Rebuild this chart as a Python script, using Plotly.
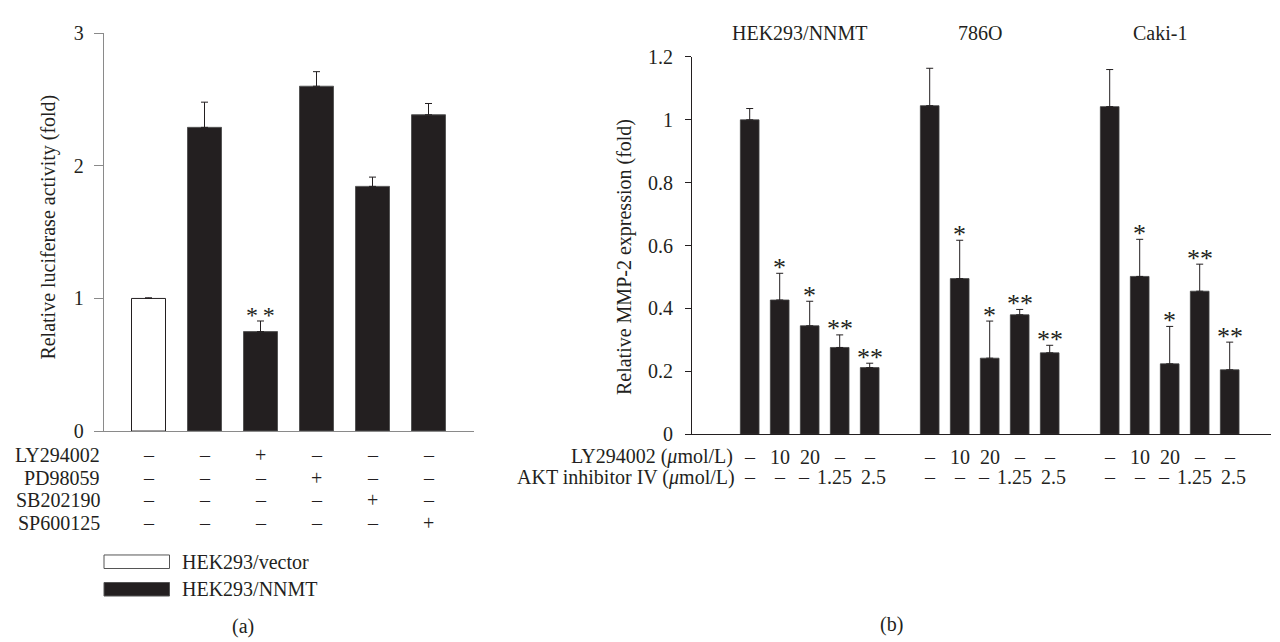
import plotly.graph_objects as go

W, H = 1280, 642
FONT = "Liberation Serif"
INK = "#231f20"

# ---------------- Panel (a) data ----------------
a_groups = ["HEK293/vector", "HEK293/NNMT", "HEK293/NNMT", "HEK293/NNMT", "HEK293/NNMT", "HEK293/NNMT"]
a_values = [1.00, 2.29, 0.75, 2.60, 1.845, 2.385]
a_errors = [0.005, 0.19, 0.08, 0.11, 0.07, 0.085]
a_stars = ["", "", "*\u2009*", "", "", ""]
a_treatments = ["LY294002", "PD98059", "SB202190", "SP600125"]
a_signs = [
    ["–", "–", "+", "–", "–", "–"],
    ["–", "–", "–", "+", "–", "–"],
    ["–", "–", "–", "–", "+", "–"],
    ["–", "–", "–", "–", "–", "+"],
]
a_yticks = [0, 1, 2, 3]

# ---------------- Panel (b) data ----------------
b_cells = ["HEK293/NNMT", "786O", "Caki-1"]
b_ly = ["–", "10", "20", "–", "–"]
b_akt = ["–", "–", "–", "1.25", "2.5"]
b_values = [
    [1.00, 0.427, 0.345, 0.276, 0.212],
    [1.045, 0.495, 0.242, 0.380, 0.259],
    [1.042, 0.502, 0.224, 0.455, 0.205],
]
b_errors = [
    [0.036, 0.085, 0.078, 0.040, 0.014],
    [0.119, 0.122, 0.118, 0.017, 0.024],
    [0.118, 0.118, 0.119, 0.086, 0.088],
]
b_stars = ["", "*", "*", "**", "**"]
b_yticks = [0, 0.2, 0.4, 0.6, 0.8, 1.0, 1.2]
b_yticklabels = ["0", "0.2", "0.4", "0.6", "0.8", "1", "1.2"]

def px(x):
    return x / W

def py(y):
    return 1 - y / H

fig = go.Figure()

# Panel (a) bars
a_x = list(range(len(a_values)))
a_colors = ["white" if g == "HEK293/vector" else INK for g in a_groups]
a_lines = [INK if g == "HEK293/vector" else "#555555" for g in a_groups]
fig.add_trace(go.Bar(
    x=a_x, y=a_values, width=0.607,
    marker=dict(color=a_colors, line=dict(color=a_lines, width=1)),
    error_y=dict(type="data", array=a_errors, arrayminus=[0] * len(a_errors),
                 symmetric=False, color=INK, thickness=1, width=3.5),
    xaxis="x", yaxis="y", showlegend=False, hoverinfo="skip",
))

# Panel (b) bars
b_x, b_y, b_e, b_s = [], [], [], []
for gi, vals in enumerate(b_values):
    for j, v in enumerate(vals):
        b_x.append(gi * 6 + j)
        b_y.append(v)
        b_e.append(b_errors[gi][j])
        b_s.append(b_stars[j])
fig.add_trace(go.Bar(
    x=b_x, y=b_y, width=0.623,
    marker=dict(color=INK, line=dict(color="#444444", width=0.8)),
    error_y=dict(type="data", array=b_e, arrayminus=[0] * len(b_e),
                 symmetric=False, color=INK, thickness=1, width=3.5),
    xaxis="x2", yaxis="y2", showlegend=False, hoverinfo="skip",
))

ann = []
tfont = dict(family=FONT, size=20, color=INK)
sfont = dict(family=FONT, size=26, color=INK)

# stars (a)
for i, s in enumerate(a_stars):
    if s:
        ann.append(dict(x=a_x[i], y=a_values[i] + a_errors[i], xref="x", yref="y",
                        text=s, showarrow=False, yanchor="middle", yshift=6,
                        font=dict(family=FONT, size=24, color=INK)))
# stars (b)
for xi, yi, ei, s in zip(b_x, b_y, b_e, b_s):
    if s:
        ann.append(dict(x=xi, y=yi + ei, xref="x2", yref="y2",
                        text=s, showarrow=False, yanchor="middle", yshift=6,
                        font=sfont))

# table (a)
a_rows_y = [451.7, 475, 498.5, 521.7]
for r, (name, signs) in enumerate(zip(a_treatments, a_signs)):
    ann.append(dict(x=px(94), y=py(a_rows_y[r]), xref="paper", yref="paper",
                    text=name, showarrow=False, xanchor="right", yanchor="middle", font=tfont))
    for c, s in enumerate(signs):
        ann.append(dict(x=a_x[c], y=py(a_rows_y[r]), xref="x", yref="paper",
                        text=s, showarrow=False, xanchor="center", yanchor="middle", font=tfont))

# table (b)
b_rows_y = [453.3, 474.3]
akt_shift = [0, 0, -6, -5, 4]
ann.append(dict(x=px(727), y=py(b_rows_y[0]), xref="paper", yref="paper",
                text="LY294002 (<i>μ</i>mol/L)", showarrow=False, xanchor="right",
                yanchor="middle", font=tfont))
ann.append(dict(x=px(729), y=py(b_rows_y[1]), xref="paper", yref="paper",
                text="AKT inhibitor IV (<i>μ</i>mol/L)", showarrow=False, xanchor="right",
                yanchor="middle", font=tfont))
for gi in range(len(b_cells)):
    for j in range(5):
        ann.append(dict(x=gi * 6 + j, y=py(b_rows_y[0]), xref="x2", yref="paper",
                        text=b_ly[j], showarrow=False, xanchor="center", yanchor="middle",
                        font=tfont))
        ann.append(dict(x=gi * 6 + j, y=py(b_rows_y[1]), xref="x2", yref="paper",
                        text=b_akt[j], showarrow=False, xanchor="center", yanchor="middle",
                        xshift=akt_shift[j], font=tfont))
    ann.append(dict(x=gi * 6 + 2, y=py(15), xref="x2", yref="paper",
                    text=b_cells[gi], showarrow=False, xanchor="center", yanchor="middle",
                    xshift=-10, font=tfont))

# axis titles
ann.append(dict(x=px(41), y=py(216), xref="paper", yref="paper",
                text="Relative luciferase activity (fold)", textangle=-90,
                showarrow=False, xanchor="center", yanchor="middle", font=tfont))
ann.append(dict(x=px(616), y=py(246.5), xref="paper", yref="paper",
                text="Relative MMP-2 expression (fold)", textangle=-90,
                showarrow=False, xanchor="center", yanchor="middle", font=tfont))

# legend (a)
legend_items = [("HEK293/vector", "white", 562), ("HEK293/NNMT", INK, 590.5)]
shapes = []
for label, col, yc in legend_items:
    shapes.append(dict(type="rect", xref="paper", yref="paper",
                       x0=px(96), x1=px(161.5), y0=py(yc - 7), y1=py(yc + 7),
                       fillcolor=col, line=dict(color="#555555", width=1)))
    ann.append(dict(x=px(172), y=py(yc), xref="paper", yref="paper", text=label,
                    showarrow=False, xanchor="left", yanchor="middle", font=tfont))

# panel labels
ann.append(dict(x=px(235), y=py(629), xref="paper", yref="paper", text="(a)",
                showarrow=False, xanchor="center", yanchor="middle", font=tfont))
ann.append(dict(x=px(883), y=py(627), xref="paper", yref="paper", text="(b)",
                showarrow=False, xanchor="center", yanchor="middle", font=tfont))

GREY = "#8a8a8a"
fig.update_layout(
    width=W, height=H,
    margin=dict(l=0, r=0, t=0, b=0),
    paper_bgcolor="white", plot_bgcolor="white",
    barmode="overlay",
    font=dict(family=FONT, size=20, color=INK),
    annotations=ann, shapes=shapes,
    xaxis=dict(domain=[px(96), px(465.7)], range=[-0.7946, 5.807],
               showline=True, linecolor=GREY, linewidth=1.3, showticklabels=False,
               ticks="", showgrid=False, zeroline=False, fixedrange=True),
    yaxis=dict(domain=[py(426.7), py(14.7)], range=[0, 3],
               tickvals=a_yticks, ticktext=[str(t) for t in a_yticks],
               showline=True, linecolor=GREY, linewidth=1.3,
               ticks="outside", ticklen=9, tickcolor=GREY, tickwidth=1.3,
               ticklabelstandoff=6,
               tickfont=dict(family=FONT, size=20, color=INK),
               showgrid=False, zeroline=False, fixedrange=True),
    xaxis2=dict(domain=[px(684), px(1263)], range=[-1.923, 17.377], anchor="y2",
                showline=True, linecolor=INK, linewidth=1, showticklabels=False,
                ticks="", showgrid=False, zeroline=False, fixedrange=True),
    yaxis2=dict(domain=[py(430), py(39.3)], range=[0, 1.2], anchor="x2",
                tickvals=b_yticks, ticktext=b_yticklabels,
                showline=True, linecolor=INK, linewidth=1,
                ticks="outside", ticklen=6, tickcolor=INK, tickwidth=1,
                ticklabelstandoff=8,
                tickfont=dict(family=FONT, size=20, color=INK),
                showgrid=False, zeroline=False, fixedrange=True),
)

fig.write_html("out.html")
